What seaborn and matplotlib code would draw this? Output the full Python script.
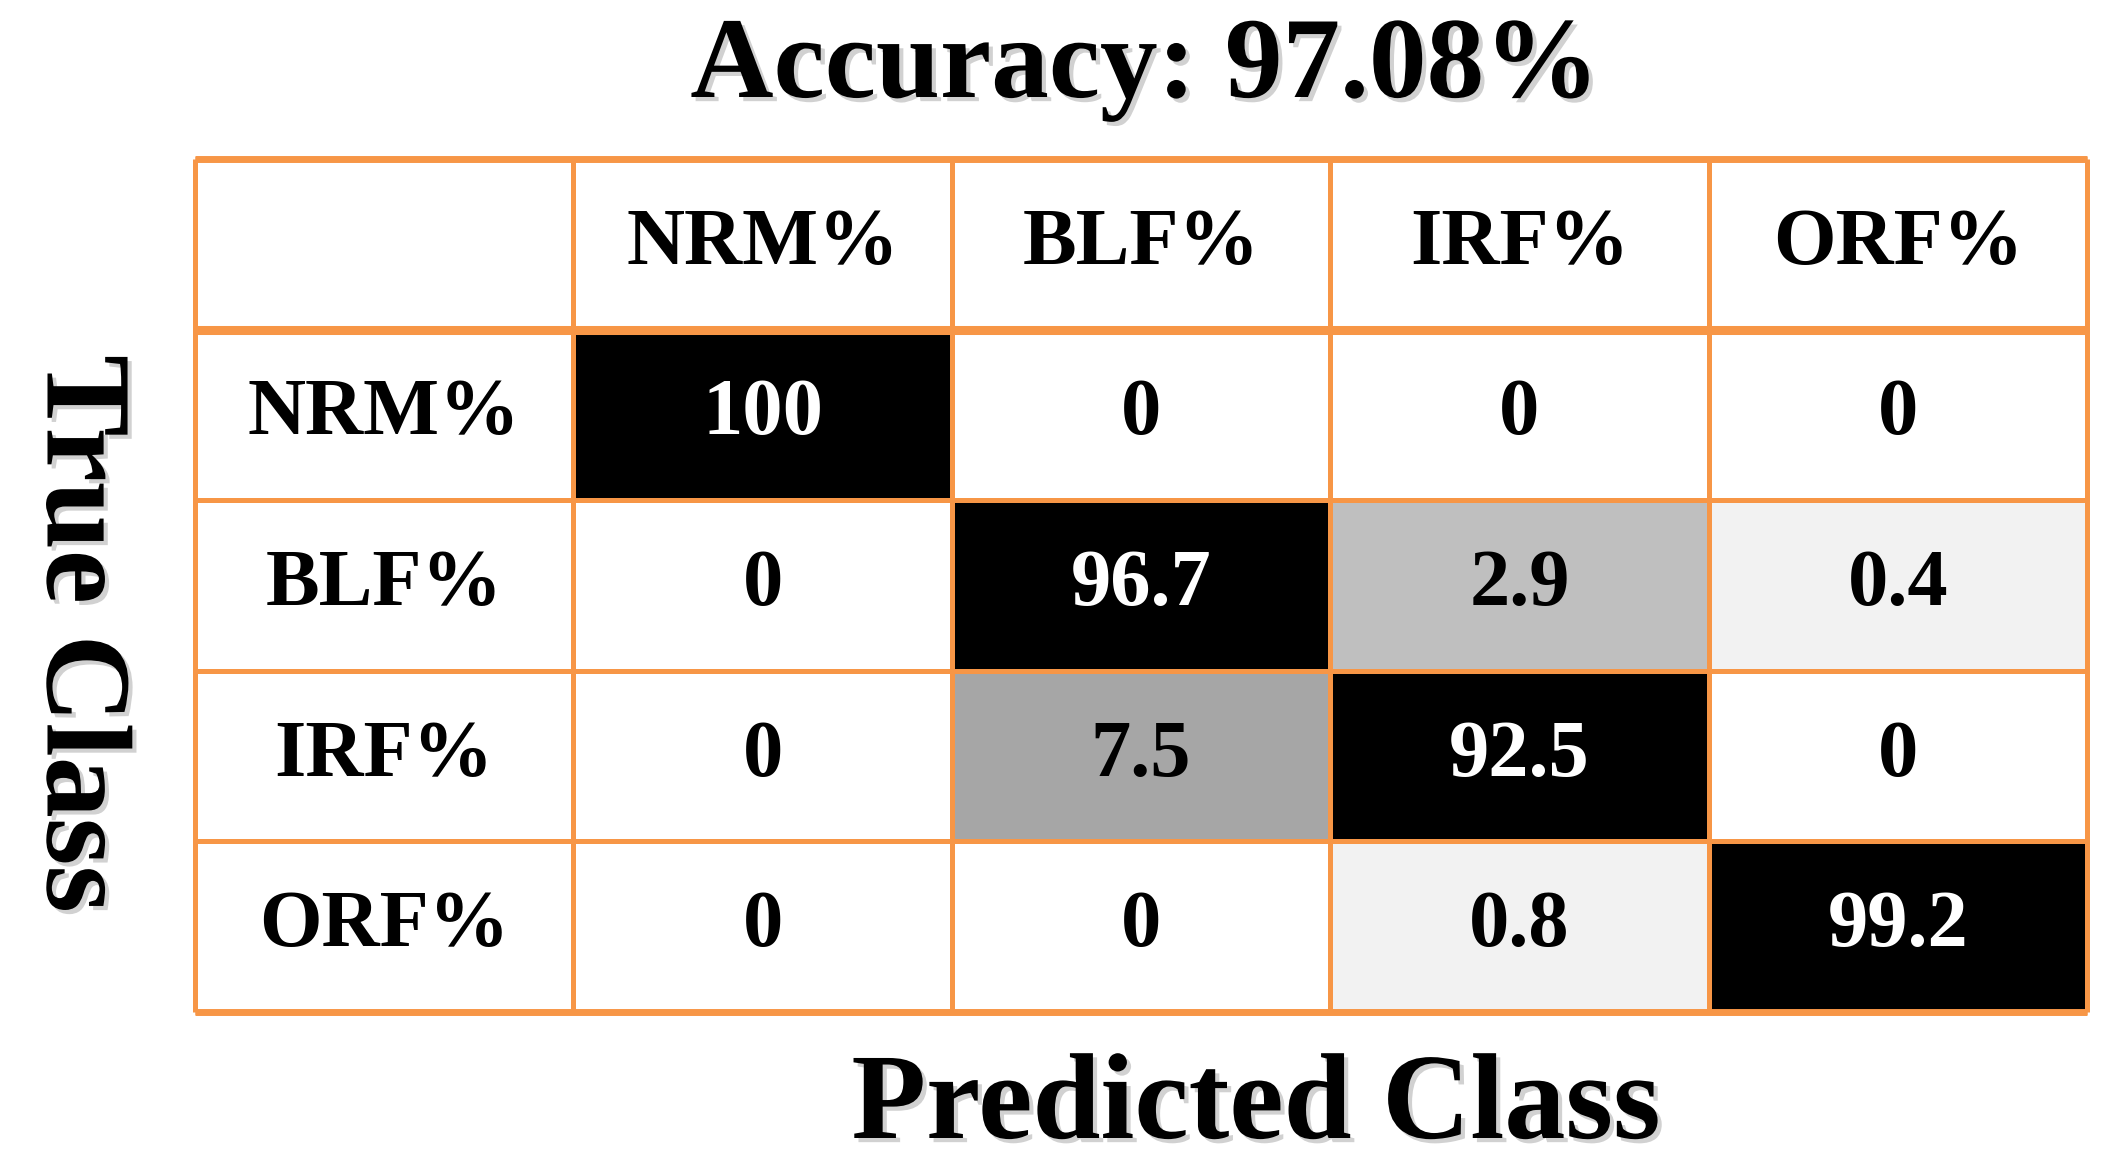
import matplotlib.pyplot as plt
import pandas as pd
import seaborn as sns
from matplotlib import patheffects
from matplotlib.colors import BoundaryNorm, ListedColormap

# confusion matrix values (%), rows = true class, columns = predicted class
CLASSES = ["NRM%", "BLF%", "IRF%", "ORF%"]
NRM_ROW = [100, 0, 0, 0]
BLF_ROW = [0, 96.7, 2.9, 0.4]
IRF_ROW = [0, 7.5, 92.5, 0]
ORF_ROW = [0, 0, 0.8, 99.2]
ACCURACY = 97.08

ORANGE = "#f79646"
SHADES = ["#ffffff", "#f2f2f2", "#bfbfbf", "#a6a6a6", "#000000"]
BOUNDS = [0, 0.1, 1, 5, 50, 101]

W, H = 2111, 1163

matrix = pd.DataFrame([NRM_ROW, BLF_ROW, IRF_ROW, ORF_ROW], index=CLASSES, columns=CLASSES)
labels = matrix.map(lambda v: f"{v:g}")

sns.set_theme(style="white")
plt.rcParams["font.family"] = ["Liberation Serif", "DejaVu Serif"]
plt.rcParams["text.color"] = "black"

fig = plt.figure(figsize=(W / 100, H / 100), dpi=100)
ax = fig.add_axes([195 / W, 1 - 1012 / H, (2087 - 195) / W, (1012 - 159) / H])

sns.heatmap(
    matrix,
    ax=ax,
    cmap=ListedColormap(SHADES),
    norm=BoundaryNorm(BOUNDS, len(SHADES)),
    annot=labels,
    fmt="",
    cbar=False,
    xticklabels=False,
    yticklabels=False,
    annot_kws={"fontsize": 58, "fontweight": "bold", "color": "black"},
)
for txt, val in zip(ax.texts, matrix.values.ravel()):
    if val >= 50:
        txt.set_color("white")

# header row / column live outside the heatmap cells
ax.set_xlim(-1, len(CLASSES))
ax.set_ylim(len(CLASSES), -1)
for i, name in enumerate(CLASSES):
    ax.text(i + 0.5, -0.5, name, ha="center", va="center", fontsize=58, fontweight="bold", color="black")
    ax.text(-0.5, i + 0.5, name, ha="center", va="center", fontsize=58, fontweight="bold", color="black")

n = len(CLASSES)
ax.hlines(range(-1, n + 1), -1, n, colors=ORANGE, lw=3.6, clip_on=False)
ax.vlines(range(-1, n + 1), -1, n, colors=ORANGE, lw=3.6, clip_on=False)
ax.hlines([0], -1, n, colors=ORANGE, lw=6.5, clip_on=False)
ax.hlines([-1, n], -1, n, colors=ORANGE, lw=5, clip_on=False)
ax.axis("off")

shadow = [patheffects.SimplePatchShadow(offset=(3, -3), shadow_rgbFace="0.6", alpha=0.45), patheffects.Normal()]
fig.text(1145 / W, 1 - 97 / H, f"Accuracy: {ACCURACY:.2f}%", ha="center", va="baseline",
         fontsize=83, fontweight="bold", color="black", path_effects=shadow)
fig.text(1256 / W, 1 - 1138 / H, "Predicted Class", ha="center", va="baseline",
         fontsize=88, fontweight="bold", color="black", path_effects=shadow)
fig.text(77 / W, 1 - 634 / H, "True Class", ha="center", va="center", rotation=-90,
         fontsize=88, fontweight="bold", color="black", path_effects=shadow)

fig.savefig("out.png", dpi=100)
